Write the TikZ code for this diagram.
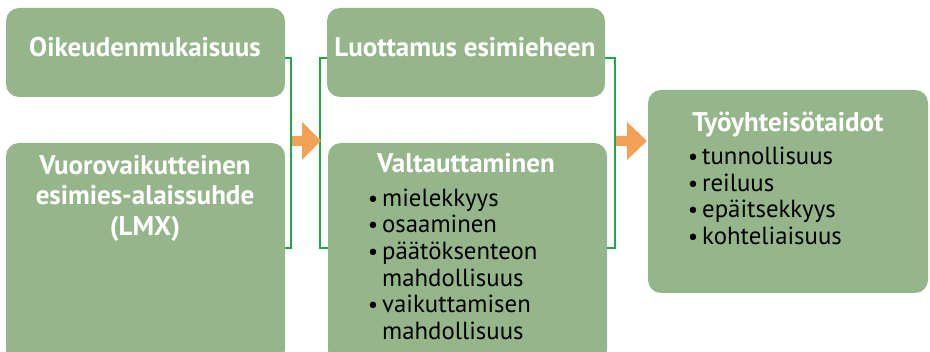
\documentclass[tikz,border=0pt]{standalone}
\usepackage{fontspec}
\setmainfont{PT Sans}
\definecolor{boxgreen}{HTML}{95B68A}
\definecolor{linegreen}{HTML}{22A846}
\definecolor{arroworange}{HTML}{F5A057}
\tikzset{
  gbox/.style={fill=boxgreen, rounded corners=13pt, draw=none, inner sep=0pt},
  ttl/.style={font=\fontsize{27}{30}\selectfont\bfseries, text=white, inner sep=0pt, anchor=base},
  itm/.style={font=\fontsize{24.8}{26}\selectfont, text=black, inner sep=0pt, anchor=base west},
  bul/.style={font=\fontsize{23}{26}\selectfont, text=black, inner sep=0pt, anchor=base},
  brk/.style={draw=linegreen, line width=1.6pt},
  arr/.style={fill=arroworange, draw=none}
}
\begin{document}
\begin{tikzpicture}[x=1pt,y=-1pt]
\useasboundingbox (0,0) rectangle (930,352);
% boxes
\node[gbox, minimum width=279pt, minimum height=89pt] (b1) at (145.5,52.5) {};
\node[gbox, minimum width=279pt, minimum height=220pt] (b2) at (145.5,253) {};
\node[gbox, minimum width=278pt, minimum height=89pt] (b3) at (466,52.5) {};
\node[gbox, minimum width=279pt, minimum height=220pt] (b4) at (467.5,253) {};
\node[gbox, minimum width=280pt, minimum height=203pt] (b5) at (788,191.5) {};
% brackets
\coordinate (l1) at (285,58);
\coordinate (l2) at (285,248);
\draw[brk] (l1) -- (291,58) -- (291,248) -- (l2);
\coordinate (m1) at (327,58);
\coordinate (m2) at (328,248);
\draw[brk] (m1) -- (320,58) -- (320,248) -- (m2);
\coordinate (r1) at (605,58);
\coordinate (r2) at (607,248);
\draw[brk] (r1) -- (615,58) -- (615,248) -- (r2);
% arrows
\fill[arr] (292,136) -- (302,136) -- (302,122) -- (321,141) -- (302,160) -- (302,146) -- (292,146) -- cycle;
\fill[arr] (616,136) -- (627,136) -- (627,122) -- (647,141) -- (627,160) -- (627,146) -- (616,146) -- cycle;
% titles
\node[ttl] (t1) at (145,57) {Oikeudenmukaisuus};
\node[ttl] (t2a) at (145,175) {Vuorovaikutteinen};
\node[ttl] (t2b) at (145,205) {esimies-alaissuhde};
\node[ttl] (t2c) at (145,236) {(LMX)};
\node[ttl] (t3) at (465,57) {Luottamus esimieheen};
\node[ttl] (t4) at (466,173) {Valtauttaminen};
\node[ttl] (t5) at (788,132) {Työyhteisötaidot};
% list 1
\node[bul] (p1) at (373,207) {•};
\node[itm] (i1) at (382,207) {mielekkyys};
\node[bul] (p2) at (373,233) {•};
\node[itm] (i2) at (382,233) {osaaminen};
\node[bul] (p3) at (373,260) {•};
\node[itm] (i3) at (382,260) {päätöksenteon};
\node[itm] (i3b) at (382,287) {mahdollisuus};
\node[bul] (p4) at (373,313) {•};
\node[itm] (i4) at (382,313) {vaikuttamisen};
\node[itm] (i4b) at (382,340) {mahdollisuus};
% list 2
\node[bul] (q1) at (693,165) {•};
\node[itm] (j1) at (702,165) {tunnollisuus};
\node[bul] (q2) at (693,192) {•};
\node[itm] (j2) at (702,192) {reiluus};
\node[bul] (q3) at (693,218) {•};
\node[itm] (j3) at (702,218) {epäitsekkyys};
\node[bul] (q4) at (693,245) {•};
\node[itm] (j4) at (702,245) {kohteliaisuus};
\end{tikzpicture}
\end{document}
